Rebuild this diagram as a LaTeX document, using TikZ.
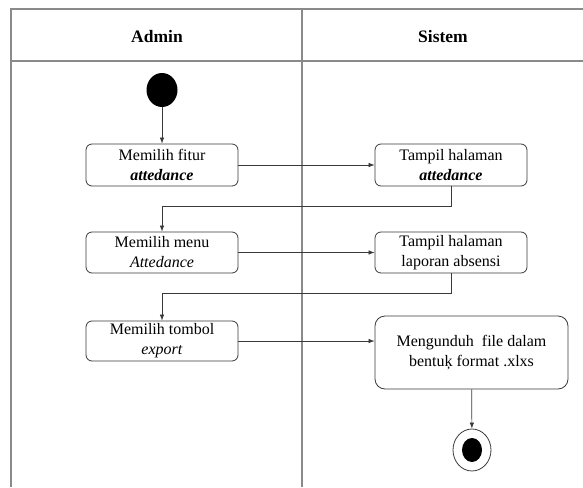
\documentclass[tikz,border=0pt]{standalone}
\usepackage{fontspec}
\setmainfont{Liberation Serif}
\usetikzlibrary{arrows.meta, positioning, shapes.geometric}
\definecolor{laneline}{HTML}{8A8A8A}
\definecolor{boxline}{HTML}{3A3A3A}
\tikzset{%
	activity/.style={
		rectangle,
		rounded corners=6pt,
		draw=boxline,
		line width=0.8pt,
		minimum width=152pt,
		minimum height=41pt,
		align=center,
		inner sep=0pt,
		font=\fontsize{16}{20}\selectfont
	},
	flow/.style={
		-{Latex[length=6pt,width=4.5pt]},
		line width=0.7pt,
		draw=boxline
	},
	lane/.style={
		draw=laneline,
		line width=1.3pt
	},
	lanetitle/.style={
		font=\fontsize{17.5}{20}\selectfont\bfseries
	},
}

\begin{document}
\begin{tikzpicture}[x=1pt, y=-1pt]
			\useasboundingbox (0,0) rectangle (583,487);
			% Draw the swimlanes
			\draw[lane] (583,9) -- (11,9) -- (11,487);
			\draw[lane] (11,61) -- (583,61);
			\draw[lane] (302,9) -- (302,487);
			\node[lanetitle] (admin) at (157,37) {Admin};
			\node[lanetitle] (sistem) at (443,37) {Sistem};
			
			% Draw the start node
			\node[ellipse, fill=black, minimum width=31pt, minimum height=34pt, inner sep=0pt] (start) at (162,90) {};
			
			% Draw the activities
			\node[activity, minimum height=42pt] (fitur) at (162,165) {Memilih fitur\\\textbf{\textit{attedance}}};
			\node[activity, minimum height=42pt] (halaman) at (451,165) {Tampil halaman\\\textbf{\textit{attedance}}};
			\node[activity] (menu) at (162,252.5) {Memilih menu\\\textit{Attedance}};
			\node[activity] (laporan) at (451,252.5) {Tampil halaman\\laporan absensi};
			\node[activity, minimum height=40pt] (tombol) at (162,341) {Memilih tombol\\\textit{export}};
			\node[activity, minimum width=193pt, minimum height=73pt, rounded corners=10pt] (unduh) at (471.5,352.5) {Mengunduh\ \ file dalam\\bentuķ format .xlxs};
			
			% Draw the final node
			\node[ellipse, draw=boxline, line width=0.8pt, minimum width=38pt, minimum height=42pt, inner sep=0pt] (final) at (472,450) {};
			\node[ellipse, fill=black, minimum width=20pt, minimum height=24pt, inner sep=0pt] (dot) at (final) {};
			
			% Draw the arrows
			\draw[flow] (start) -- (fitur);
			\draw[flow] (fitur) -- (halaman);
			\draw[flow] (halaman.south) -- ++(0,20) -| (menu.north);
			\draw[flow] (menu) -- (laporan);
			\draw[flow] (laporan.south) -- ++(0,20) -| (tombol.north);
			\draw[flow] (tombol.east) -- (tombol.east -| unduh.west);
			\draw[flow] (unduh) -- (final);
			
		\end{tikzpicture}
\end{document}
